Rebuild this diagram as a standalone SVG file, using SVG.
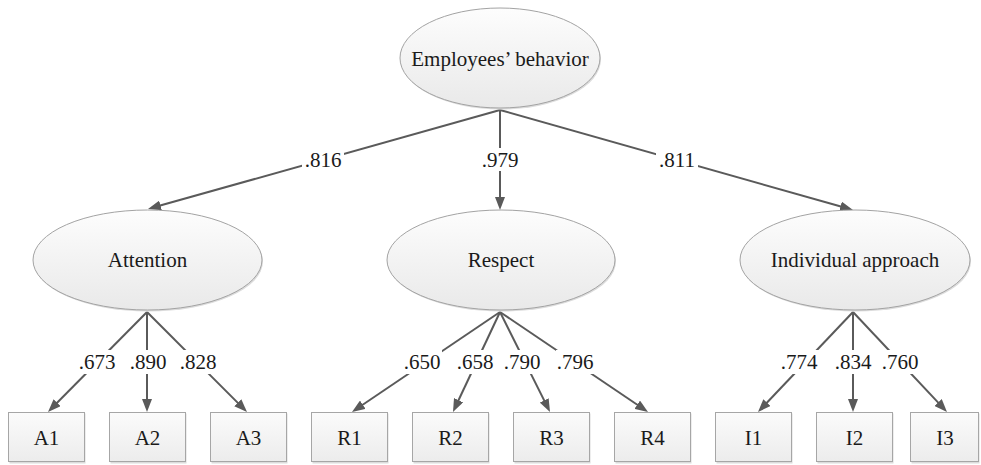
<svg xmlns="http://www.w3.org/2000/svg" width="981" height="465" viewBox="0 0 981 465">
<style>
  .lat { fill: url(#gEll); stroke: #a3a3a3; stroke-width: 1; }
  .obs { fill: url(#gBox); stroke: #a6a6a6; stroke-width: 1; }
  .shd { fill: #dcdcdc; }
  .t { font-family: "Liberation Serif", "Times New Roman", serif; font-size: 21px; fill: #1a1a1a; text-anchor: middle; }
  .edge { stroke: #5a5a5a; stroke-width: 2; fill: none; marker-end: url(#arr); }
  .bg { fill: #ffffff; }
</style>
<defs>
  <linearGradient id="gEll" x1="0" y1="0" x2="0" y2="1">
    <stop offset="0" stop-color="#fdfdfd"/>
    <stop offset="1" stop-color="#e9e9e9"/>
  </linearGradient>
  <linearGradient id="gBox" x1="0" y1="0" x2="0" y2="1">
    <stop offset="0" stop-color="#fbfbfb"/>
    <stop offset="1" stop-color="#ececec"/>
  </linearGradient>
  <marker id="arr" markerUnits="userSpaceOnUse" markerWidth="13" markerHeight="10" refX="5" refY="5" orient="auto">
    <path d="M0,0 L13,5 L0,10 z" fill="#5a5a5a"/>
  </marker>
</defs>
<rect width="981" height="465" fill="#ffffff"/>

<g id="connectors">
  <line class="edge" x1="500" y1="110" x2="155.7" y2="206.83"/>
  <line class="edge" x1="500" y1="110" x2="500" y2="202"/>
  <line class="edge" x1="500" y1="110" x2="845.3" y2="207.82"/>

  <line class="edge" x1="147" y1="312" x2="53.63" y2="406.31"/>
  <line class="edge" x1="147" y1="312" x2="147" y2="404"/>
  <line class="edge" x1="147" y1="312" x2="241.34" y2="406.34"/>

  <line class="edge" x1="500" y1="312" x2="358.63" y2="407.52"/>
  <line class="edge" x1="500" y1="312" x2="456.4" y2="404.76"/>
  <line class="edge" x1="500" y1="312" x2="546.42" y2="404.84"/>
  <line class="edge" x1="500" y1="312" x2="641.37" y2="407.52"/>

  <line class="edge" x1="853" y1="312" x2="763.51" y2="406.2"/>
  <line class="edge" x1="853" y1="312" x2="853" y2="404"/>
  <line class="edge" x1="853" y1="312" x2="941.52" y2="406.17"/>

  <g id="labels">
    <rect class="bg" x="302" y="148" width="42" height="23"/><text class="t" x="323" y="167">.816</text>
    <rect class="bg" x="479" y="148" width="42" height="23"/><text class="t" x="500" y="167">.979</text>
    <rect class="bg" x="656" y="148" width="42" height="23"/><text class="t" x="677" y="167">.811</text>

    <rect class="bg" x="77" y="350" width="40" height="24"/><text class="t" x="97" y="369">.673</text>
    <rect class="bg" x="128" y="350" width="40" height="24"/><text class="t" x="148" y="369">.890</text>
    <rect class="bg" x="178" y="350" width="40" height="24"/><text class="t" x="198" y="369">.828</text>

    <rect class="bg" x="403" y="350" width="39" height="24"/><text class="t" x="422" y="369">.650</text>
    <rect class="bg" x="456" y="350" width="39" height="24"/><text class="t" x="475" y="369">.658</text>
    <rect class="bg" x="503" y="350" width="39" height="24"/><text class="t" x="522" y="369">.790</text>
    <rect class="bg" x="556" y="350" width="39" height="24"/><text class="t" x="575" y="369">.796</text>

    <rect class="bg" x="780" y="350" width="39" height="24"/><text class="t" x="799" y="369">.774</text>
    <rect class="bg" x="834" y="350" width="39" height="24"/><text class="t" x="853" y="369">.834</text>
    <rect class="bg" x="881" y="350" width="39" height="24"/><text class="t" x="900" y="369">.760</text>
  </g>
</g>

<g id="behavior">
  <ellipse class="shd" cx="501" cy="59.5" rx="100" ry="50"/>
  <ellipse class="lat" cx="500" cy="58" rx="100" ry="50"/>
  <text class="t" x="500" y="66">Employees’ behavior</text>
</g>
<g id="attention">
  <ellipse class="shd" cx="148.5" cy="261.5" rx="114.5" ry="50"/>
  <ellipse class="lat" cx="147.5" cy="260" rx="114.5" ry="50"/>
  <text class="t" x="147.5" y="267">Attention</text>
</g>
<g id="respect">
  <ellipse class="shd" cx="502" cy="261.5" rx="114" ry="50"/>
  <ellipse class="lat" cx="501" cy="260" rx="114" ry="50"/>
  <text class="t" x="501" y="267">Respect</text>
</g>
<g id="individual">
  <ellipse class="shd" cx="856" cy="261.5" rx="115" ry="50"/>
  <ellipse class="lat" cx="855" cy="260" rx="115" ry="50"/>
  <text class="t" x="855" y="267">Individual approach</text>
</g>

<g id="A1"><rect class="shd" x="9.5" y="413.5" width="76" height="50"/><rect class="obs" x="8.5" y="412.5" width="76" height="49"/><text class="t" x="46.5" y="445">A1</text></g>
<g id="A2"><rect class="shd" x="110.5" y="413.5" width="76" height="50"/><rect class="obs" x="109.5" y="412.5" width="76" height="49"/><text class="t" x="147.5" y="445">A2</text></g>
<g id="A3"><rect class="shd" x="211.5" y="413.5" width="76" height="50"/><rect class="obs" x="210.5" y="412.5" width="76" height="49"/><text class="t" x="248.5" y="445">A3</text></g>

<g id="R1"><rect class="shd" x="312.5" y="413.5" width="76" height="50"/><rect class="obs" x="311.5" y="412.5" width="76" height="49"/><text class="t" x="349.5" y="445">R1</text></g>
<g id="R2"><rect class="shd" x="413.5" y="413.5" width="76" height="50"/><rect class="obs" x="412.5" y="412.5" width="76" height="49"/><text class="t" x="450.5" y="445">R2</text></g>
<g id="R3"><rect class="shd" x="514.5" y="413.5" width="76" height="50"/><rect class="obs" x="513.5" y="412.5" width="76" height="49"/><text class="t" x="551.5" y="445">R3</text></g>
<g id="R4"><rect class="shd" x="615.5" y="413.5" width="76" height="50"/><rect class="obs" x="614.5" y="412.5" width="76" height="49"/><text class="t" x="652.5" y="445">R4</text></g>

<g id="I1"><rect class="shd" x="716.5" y="413.5" width="76" height="50"/><rect class="obs" x="715.5" y="412.5" width="76" height="49"/><text class="t" x="753.5" y="445">I1</text></g>
<g id="I2"><rect class="shd" x="817.5" y="413.5" width="76" height="50"/><rect class="obs" x="816.5" y="412.5" width="76" height="49"/><text class="t" x="854.5" y="445">I2</text></g>
<g id="I3"><rect class="shd" x="911.5" y="413.5" width="68" height="50"/><rect class="obs" x="910.5" y="412.5" width="68" height="49"/><text class="t" x="945" y="445">I3</text></g>
</svg>
